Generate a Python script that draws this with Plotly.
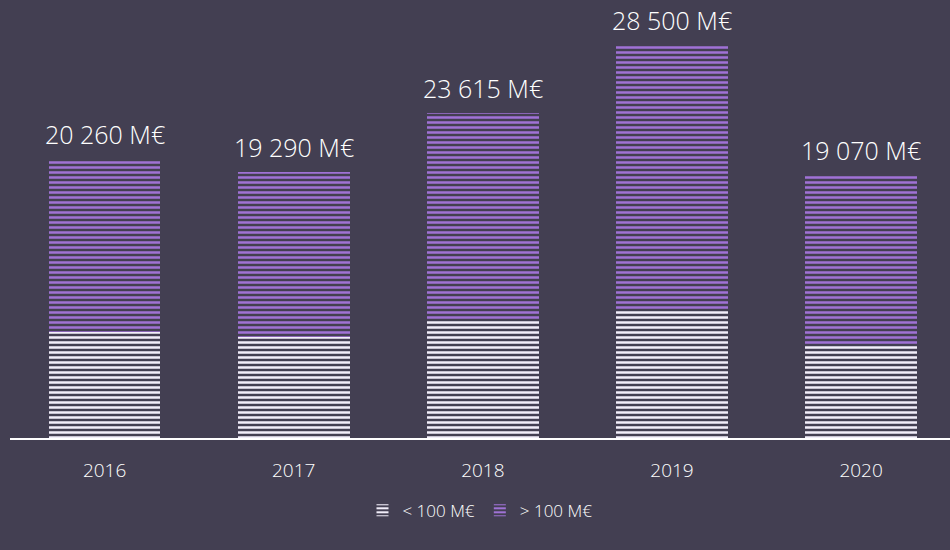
import plotly.graph_objects as go

years = ["2016", "2017", "2018", "2019", "2020"]
small = [7700, 7300, 8550, 9400, 6800]      # < 100 M€
totals = [20260, 19290, 23615, 28500, 19070]
large = [t - s for t, s in zip(totals, small)]  # > 100 M€
total_labels = ["20 260 M€", "19 290 M€", "23 615 M€", "28 500 M€", "19 070 M€"]

BG = "#433f52"
WHITE = "#f2eefa"
PURPLE = "#a072d6"
FONT = "Open Sans"

fig = go.Figure()
fig.add_trace(go.Bar(
    x=years, y=small, name="< 100 M€",
    marker=dict(color=BG, line=dict(width=0),
                pattern=dict(shape="-", fgcolor=WHITE, bgcolor=BG, size=5, solidity=0.5,
                             fillmode="replace", fgopacity=1)),
))
fig.add_trace(go.Bar(
    x=years, y=large, name="> 100 M€",
    marker=dict(color=BG, line=dict(width=0),
                pattern=dict(shape="-", fgcolor=PURPLE, bgcolor=BG, size=5, solidity=0.5,
                             fillmode="replace", fgopacity=1)),
))

for i, (tot, lab) in enumerate(zip(totals, total_labels)):
    fig.add_annotation(x=i, y=tot, xref="x", yref="y", text=lab, showarrow=False,
                       yanchor="bottom", yshift=6,
                       font=dict(family=FONT, size=25, color="#ffffff", weight=300))

fig.update_layout(
    width=950, height=550,
    barmode="stack", bargap=0.41,
    paper_bgcolor=BG, plot_bgcolor=BG,
    margin=dict(l=10, r=0, t=0, b=112),
    font=dict(family=FONT, color="#ffffff", weight=300),
    showlegend=True,
    legend=dict(orientation="h", x=0.5, xanchor="center", y=-0.125, yanchor="top",
                font=dict(size=17, color="#ffffff", weight=300), itemwidth=30,
                traceorder="normal"),
    xaxis=dict(type="category", range=[-0.5, 4.47], showline=True, linecolor="#ffffff",
               linewidth=2, showgrid=False, ticks="",
               tickfont=dict(size=19, color="#ffffff", weight=300),
               ticklabelstandoff=14),
    yaxis=dict(range=[0, 31800], visible=False, showgrid=False),
)

fig.write_html("out.html", config={"displayModeBar": False},
               post_script="document.body.style.margin='0';document.body.style.padding='0';")
